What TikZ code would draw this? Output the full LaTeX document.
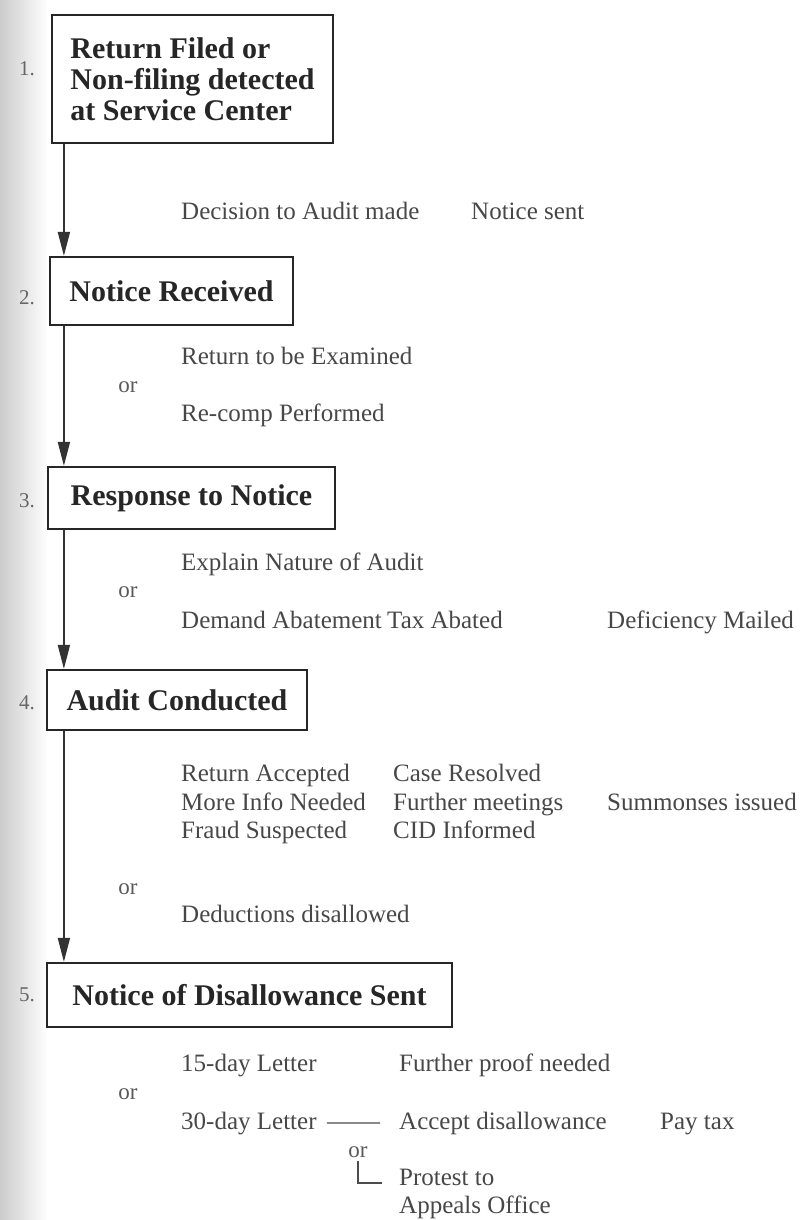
\documentclass[tikz,border=0pt]{standalone}
\usepackage{fontspec}
\setmainfont{Liberation Serif}
\usetikzlibrary{arrows.meta}
\tikzset{
  stepbox/.style={draw=black!85, line width=2.2pt, fill=white, inner sep=0pt, align=left,
    font=\fontsize{30}{31}\selectfont\bfseries, text=black!85},
  lbl/.style={inner sep=0pt, anchor=base west, font=\fontsize{25}{28}\selectfont, text=black!72},
  num/.style={inner sep=0pt, anchor=base west, font=\fontsize{21}{24}\selectfont, text=black!60},
  orl/.style={inner sep=0pt, anchor=base, font=\fontsize{23}{26}\selectfont, text=black!65},
  flow/.style={draw=black!80, line width=1.8pt, -{Triangle[length=24pt,width=12pt]}},
  thin/.style={draw=black!70, line width=1.4pt}
}
\begin{document}
\begin{tikzpicture}[x=1pt,y=-1pt]
\useasboundingbox (0,0) rectangle (805,1220);
\shade[left color=black!20, right color=white] (0,0) rectangle (48,1220);

% boxes
\node[stepbox, minimum width=281pt, minimum height=128pt] (b1) at (192.5,79) {Return Filed or\\Non-filing detected\\at Service Center};
\node[stepbox, minimum width=243pt, minimum height=68pt] (b2) at (171.5,291) {Notice Received};
\node[stepbox, minimum width=287pt, minimum height=62pt] (b3) at (191.5,498) {Response to Notice};
\node[stepbox, minimum width=260pt, minimum height=60pt] (b4) at (177,700) {Audit Conducted};
\node[stepbox, minimum width=405pt, minimum height=64pt] (b5) at (249.5,995) {Notice of Disallowance Sent};

% numbers
\node[num] (n1) at (19,76) {1.};
\node[num] (n2) at (19,304) {2.};
\node[num] (n3) at (19,507) {3.};
\node[num] (n4) at (19,709) {4.};
\node[num] (n5) at (19,1001) {5.};

% connectors
\draw[flow] ([xshift=13pt]b1.south west) -- ([xshift=15pt]b2.north west);
\draw[flow] ([xshift=15pt]b2.south west) -- ([xshift=17pt]b3.north west);
\draw[flow] ([xshift=17pt]b3.south west) -- ([xshift=18pt]b4.north west);
\draw[flow] ([xshift=18pt]b4.south west) -- ([xshift=18pt]b5.north west);

% stage 1-2
\node[lbl] (t11) at (181,219) {Decision to Audit made};
\node[lbl] (t12) at (471,219) {Notice sent};
% stage 2-3
\node[lbl] (t21) at (181,364) {Return to be Examined};
\node[orl] (o2) at (128,392) {or};
\node[lbl] (t22) at (181,421) {Re-comp Performed};
% stage 3-4
\node[lbl] (t31) at (181,570) {Explain Nature of Audit};
\node[orl] (o3) at (128,597) {or};
\node[lbl] (t32) at (181,628) {Demand Abatement};
\node[lbl] (t33) at (387,628) {Tax Abated};
\node[lbl] (t34) at (607,628) {Deficiency Mailed};
% stage 4-5
\node[lbl] (t41) at (181,781) {Return Accepted};
\node[lbl] (t42) at (393,781) {Case Resolved};
\node[lbl] (t43) at (181,810) {More Info Needed};
\node[lbl] (t44) at (393,810) {Further meetings};
\node[lbl] (t45) at (607,810) {Summonses issued};
\node[lbl] (t46) at (181,838) {Fraud Suspected};
\node[lbl] (t47) at (393,838) {CID Informed};
\node[orl] (o4) at (128,894) {or};
\node[lbl] (t48) at (181,922) {Deductions disallowed};
% after 5
\node[lbl] (t51) at (181,1071) {15-day Letter};
\node[lbl] (t52) at (399,1071) {Further proof needed};
\node[orl] (o5) at (128,1099) {or};
\node[lbl] (l30) at (181,1129) {30-day Letter};
\node[lbl] (acc) at (399,1129) {Accept disallowance};
\node[lbl] (pay) at (660,1129) {Pay tax};
\node[orl] (o6) at (358,1157) {or};
\node[lbl] (pr1) at (399,1185) {Protest to};
\node[lbl] (pr2) at (399,1213) {Appeals Office};

\draw[thin] ([xshift=10pt]l30.east) -- ([xshift=-19pt]acc.west);
\draw[thin] ([yshift=-4pt]o6.south) |- ([xshift=-17pt,yshift=2pt]pr1.base west);
\end{tikzpicture}
\end{document}
